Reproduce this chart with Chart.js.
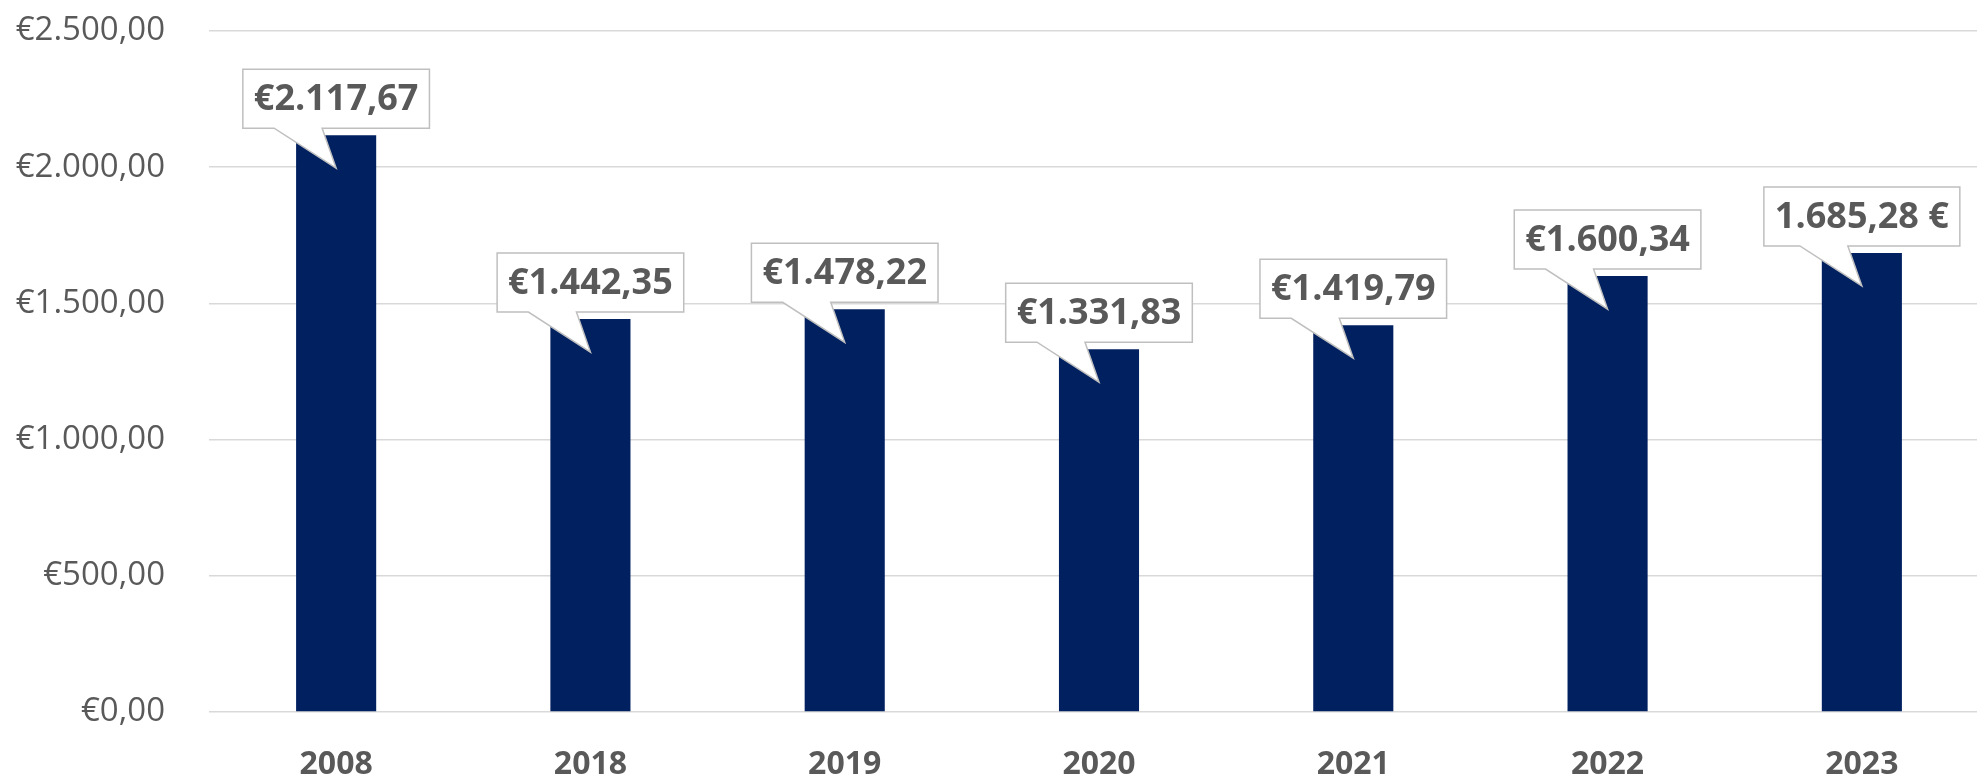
<!DOCTYPE html>
<html>
<head>
<meta charset="utf-8">
<script src="https://cdn.jsdelivr.net/npm/chart.js@4.4.0/dist/chart.umd.min.js"></script>
<style>
  html, body { margin: 0; padding: 0; background: #fff; overflow: hidden; }
  #wrap { width: 1989px; height: 776px; }
</style>
</head>
<body>
<div id="wrap"><canvas id="myChart"></canvas></div>
<script>
// categories and values
var years = ['2008', '2018', '2019', '2020', '2021', '2022', '2023'];
var amounts = [2117.67, 1442.35, 1478.22, 1331.83, 1419.79, 1600.34, 1685.28];
var calloutTexts = ['€2.117,67', '€1.442,35', '€1.478,22', '€1.331,83', '€1.419,79', '€1.600,34', '1.685,28 €'];
var yTicks = [0, 500, 1000, 1500, 2000, 2500];

var textColor = '#595959';
var gridColor = '#d9d9d9';
var barColor = '#002060';

// format a number like 2500 -> "2.500,00"
function euro(v) {
  var parts = v.toFixed(2).split('.');
  var intPart = parts[0].replace(/\B(?=(\d{3})+(?!\d))/g, '.');
  return '€' + intPart + ',' + parts[1];
}

// speech bubble labels above each bar
var calloutPlugin = {
  id: 'callouts',
  afterDatasetsDraw: function (chart) {
    var ctx = chart.ctx;
    var meta = chart.getDatasetMeta(0);
    ctx.save();
    ctx.font = 'bold 36px "Open Sans"';
    meta.data.forEach(function (bar, i) {
      var text = calloutTexts[i];
      var w = ctx.measureText(text).width + 22;
      var h = 59;
      var x = bar.x;
      var bottom = bar.y - 7;
      var top = bottom - h;
      var left = x - w / 2;
      var right = x + w / 2;
      ctx.beginPath();
      ctx.moveTo(left, top);
      ctx.lineTo(right, top);
      ctx.lineTo(right, bottom);
      ctx.lineTo(x - 14, bottom);
      ctx.lineTo(x, bar.y + 33);
      ctx.lineTo(x - 62, bottom);
      ctx.lineTo(left, bottom);
      ctx.closePath();
      ctx.fillStyle = '#ffffff';
      ctx.fill();
      ctx.lineWidth = 1.5;
      ctx.strokeStyle = '#bfbfbf';
      ctx.stroke();
      ctx.fillStyle = textColor;
      ctx.textAlign = 'center';
      ctx.textBaseline = 'middle';
      ctx.fillText(text, x, top + h / 2 + 1);
    });
    ctx.restore();
  }
};

var myCanvas = document.getElementById('myChart').getContext('2d');

var myChart = new Chart(myCanvas, {
  type: 'bar',
  data: {
    labels: years,
    datasets: [{
      data: amounts,
      backgroundColor: barColor,
      categoryPercentage: 1,
      barPercentage: 0.315
    }]
  },
  options: {
    responsive: true,
    maintainAspectRatio: false,
    animation: false,
    layout: { padding: { top: 31, left: 0, right: 0, bottom: 0 } },
    plugins: {
      legend: { display: false },
      tooltip: { enabled: false }
    },
    scales: {
      x: {
        grid: { display: false },
        border: { display: false },
        ticks: {
          color: textColor,
          font: { family: 'Open Sans', size: 32, weight: 'bold' },
          padding: 26,
          maxRotation: 0
        },
        afterFit: function (scale) {
          scale.height = 64;
          scale.paddingLeft = 0;
          scale.paddingRight = 0;
        }
      },
      y: {
        min: 0,
        max: 2500,
        afterBuildTicks: function (scale) {
          scale.ticks = yTicks.map(function (v) { return { value: v }; });
        },
        grid: { color: gridColor, lineWidth: 1.5, drawTicks: false },
        border: { display: false },
        ticks: {
          color: textColor,
          font: { family: 'Open Sans', size: 33 },
          padding: 44,
          callback: function (v) { return euro(v); }
        },
        afterFit: function (scale) {
          scale.width = 209;
          scale.paddingTop = 0;
          scale.paddingBottom = 0;
        }
      }
    }
  },
  plugins: [calloutPlugin]
});
</script>
</body>
</html>
